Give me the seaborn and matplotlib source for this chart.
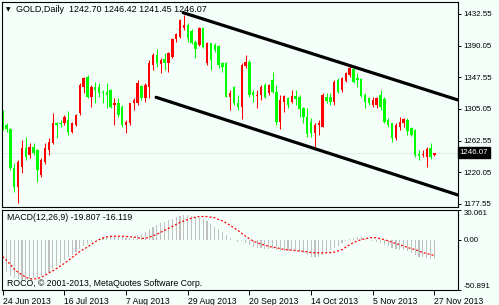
import matplotlib
matplotlib.use("Agg")
import matplotlib.pyplot as plt
import matplotlib.transforms as mtransforms
import numpy as np
import pandas as pd
import seaborn as sns

# ---------------- data ----------------
opens = [1299.2, 1283.6, 1277.8, 1225.4, 1200.8, 1227.7, 1252.3, 1243.3, 1254.5, 1250.0,
         1216.5, 1234.4, 1250.0, 1259.0, 1286.7, 1285.8, 1285.8, 1290.3, 1274.6, 1283.6,
         1299.2, 1335.0, 1348.4, 1321.6, 1335.0, 1334.1, 1328.3, 1328.3, 1330.5, 1310.4,
         1312.7, 1308.2, 1283.6, 1285.8, 1312.7, 1312.7, 1335.9, 1319.4, 1335.0, 1364.1,
         1377.5, 1365.4, 1371.7, 1366.3, 1375.3, 1398.5, 1402.1, 1413.3, 1417.8, 1410.2,
         1395.4, 1390.9, 1413.3, 1366.3, 1393.2, 1390.9, 1389.6, 1366.3, 1366.3, 1320.7,
         1334.1, 1312.7, 1308.2, 1362.7, 1368.6, 1328.3, 1322.5, 1323.8, 1337.2, 1326.1,
         1344.0, 1328.3, 1288.0, 1314.9, 1319.4, 1314.9, 1322.5, 1320.7, 1305.9, 1294.8,
         1288.0, 1272.4, 1283.6, 1281.3, 1320.7, 1320.7, 1314.9, 1344.0, 1330.5, 1343.1,
         1350.7, 1358.3, 1346.2, 1344.9, 1323.8, 1319.4, 1310.4, 1310.4, 1323.8, 1318.0,
         1290.3, 1285.8, 1265.7, 1280.5, 1285.8, 1290.3, 1279.1, 1276.9, 1244.7, 1242.9,
         1241.1, 1252.3, 1242.70]
highs = [1303.7, 1285.8, 1279.1, 1232.1, 1236.6, 1263.5, 1267.9, 1259.0, 1259.0, 1250.9,
         1238.9, 1259.9, 1265.7, 1299.2, 1288.0, 1290.3, 1297.0, 1302.8, 1288.0, 1298.3,
         1339.5, 1348.4, 1350.7, 1337.2, 1341.7, 1339.5, 1330.5, 1339.5, 1331.4, 1319.4,
         1319.4, 1310.4, 1290.3, 1313.6, 1319.4, 1344.0, 1337.2, 1339.5, 1370.8, 1380.6,
         1385.1, 1373.0, 1380.6, 1382.0, 1399.9, 1407.5, 1425.4, 1431.2, 1420.0, 1411.9,
         1397.6, 1415.5, 1415.5, 1395.4, 1394.1, 1393.2, 1390.9, 1368.6, 1368.6, 1330.5,
         1335.9, 1323.8, 1366.3, 1377.5, 1370.8, 1330.5, 1330.5, 1337.2, 1339.5, 1338.6,
         1355.2, 1337.2, 1323.8, 1323.8, 1321.6, 1330.5, 1330.5, 1323.8, 1308.2, 1305.9,
         1292.5, 1285.8, 1290.3, 1326.1, 1326.1, 1326.1, 1344.0, 1346.2, 1348.4, 1355.2,
         1362.7, 1361.8, 1352.9, 1346.2, 1326.1, 1320.7, 1320.7, 1321.6, 1330.5, 1321.6,
         1292.5, 1286.7, 1285.8, 1294.8, 1292.5, 1292.5, 1281.3, 1277.8, 1250.0, 1250.0,
         1254.5, 1259.0, 1246.42]
lows = [1276.9, 1274.6, 1223.2, 1194.1, 1179.4, 1218.7, 1236.6, 1238.9, 1243.3, 1207.5,
        1214.2, 1231.3, 1243.3, 1258.1, 1265.7, 1281.3, 1283.6, 1270.2, 1272.4, 1282.2,
        1297.0, 1326.1, 1319.4, 1308.2, 1312.7, 1321.6, 1312.7, 1305.9, 1305.9, 1283.6,
        1294.8, 1281.3, 1272.4, 1283.6, 1303.7, 1310.4, 1317.1, 1314.9, 1319.4, 1357.4,
        1361.8, 1352.9, 1357.4, 1355.2, 1373.0, 1395.4, 1399.9, 1411.1, 1395.4, 1392.3,
        1373.0, 1389.6, 1386.5, 1364.1, 1357.4, 1382.0, 1359.6, 1355.2, 1320.7, 1303.7,
        1310.4, 1303.7, 1291.2, 1359.6, 1321.6, 1314.9, 1305.9, 1317.1, 1319.4, 1323.8,
        1326.1, 1283.6, 1277.8, 1301.5, 1305.9, 1312.7, 1310.4, 1294.8, 1285.8, 1267.9,
        1267.9, 1254.5, 1270.2, 1280.5, 1312.7, 1310.4, 1310.4, 1326.1, 1328.3, 1341.7,
        1348.4, 1339.5, 1335.0, 1320.7, 1305.9, 1310.4, 1308.2, 1305.9, 1303.7, 1285.8,
        1280.5, 1261.2, 1263.5, 1276.9, 1281.3, 1270.2, 1268.8, 1241.1, 1236.6, 1240.2,
        1227.7, 1237.5, 1241.45]
closes = [1283.6, 1277.8, 1225.4, 1200.8, 1234.4, 1252.3, 1241.1, 1254.5, 1245.6, 1223.2,
          1236.6, 1252.3, 1261.2, 1285.8, 1283.6, 1284.5, 1294.8, 1274.6, 1285.8, 1297.0,
          1337.2, 1346.2, 1321.6, 1335.0, 1330.5, 1327.0, 1326.1, 1323.8, 1308.2, 1312.7,
          1297.0, 1283.6, 1288.0, 1312.7, 1317.1, 1339.5, 1319.4, 1337.2, 1366.3, 1377.5,
          1366.3, 1370.8, 1366.3, 1380.6, 1398.5, 1405.7, 1424.5, 1417.8, 1399.9, 1393.2,
          1385.1, 1413.3, 1388.7, 1393.2, 1370.8, 1384.2, 1364.1, 1361.8, 1321.6, 1327.0,
          1312.7, 1308.2, 1364.1, 1368.6, 1323.8, 1323.8, 1323.8, 1335.0, 1321.6, 1337.2,
          1328.3, 1288.0, 1317.1, 1322.5, 1310.4, 1322.5, 1318.0, 1304.6, 1294.8, 1271.5,
          1272.4, 1283.6, 1285.8, 1323.8, 1316.2, 1314.9, 1341.7, 1328.3, 1346.2, 1352.9,
          1359.6, 1341.7, 1344.0, 1322.5, 1314.9, 1312.7, 1317.1, 1319.4, 1307.3, 1288.0,
          1283.6, 1265.7, 1283.6, 1288.0, 1291.2, 1276.0, 1270.2, 1243.3, 1242.0, 1244.7,
          1250.9, 1240.2, 1246.07]

macd_main = [-30, -33, -37, -39, -40, -40.5, -40.5, -40, -39, -38.5,
             -37, -35, -33, -30, -27, -24, -21, -18, -15, -12,
             -9, -6, -4, -2, -0.5, 1, 2.5, 3.5, 4.5, 4.5,
             4, 3, 2, 2, 3, 5, 6, 8, 11, 13,
             15, 16.5, 18, 19.5, 21, 22.5, 23.5, 24.5, 24.5, 24,
             23, 22, 20.5, 18.5, 16, 13, 10.5, 8, 5, 2,
             -0.5, -2, -1, -3, -5, -7, -8, -8.5, -9, -9,
             -9.5, -10, -11, -11, -11, -11, -11.5, -12, -13, -15,
             -17, -17.5, -17, -15, -12, -10, -8, -6, -3, -1,
             1, 2, 3, 2.5, 1, 0, -1, -2, -3, -5,
             -6.5, -8, -9, -10, -10.5, -11.5, -13, -15.5, -17, -18,
             -18.5, -19.5, -19.807]
macd_signal = [-17, -21, -25, -30, -33, -35.5, -38, -39.5, -39.8, -39.3,
               -38, -36, -33.5, -31.5, -29, -26.5, -24, -21, -18, -15,
               -12, -9.5, -7.5, -4.5, -2, 0, 1.8, 2.8, 3.3, 3.5,
               3.5, 3.5, 3.2, 3, 2.8, 2, 1.2, 1.5, 2.5, 4,
               5.5, 7.5, 9.5, 11.5, 13.5, 15.5, 17.5, 19, 20.5, 21.8,
               22.8, 23.4, 23.5, 23.4, 22.8, 22.2, 20.5, 19, 17, 14.5,
               12, 9.5, 6.5, 3.5, 1, -1.5, -3, -4.5, -5.5, -6.8,
               -7.5, -8.2, -9, -9.8, -10.2, -10.6, -11, -11.3, -11.8, -12.3,
               -13, -13.2, -13.3, -13.3, -13.2, -13, -12.5, -11.3, -10, -7.5,
               -5, -3, -1.2, 0, 1, 1.8, 2.2, 2, 1, 0,
               -1.2, -2.5, -4, -5, -6.5, -7.8, -9, -10, -11.5, -13,
               -14, -15, -16.119]

date_tick_idx = [0, 16, 32, 48, 64, 80, 96, 112]
date_labels = ["24 Jun 2013", "16 Jul 2013", "7 Aug 2013", "29 Aug 2013",
               "20 Sep 2013", "14 Oct 2013", "5 Nov 2013", "27 Nov 2013"]
price_ticks = [1432.55, 1390.05, 1347.55, 1305.05, 1262.55, 1220.05, 1177.55]
price_tick_labels = ["1432.55", "1390.05", "1347.55", "1305.05", "1262.55", "1220.05", "1177.55"]
macd_ticks = [30.061, 0.0, -50.891]
macd_tick_labels = ["30.061", "0.00", "-50.891"]

upper_channel_x = [46.8, 118.1]
upper_channel_y = [1434.3, 1317.1]
lower_channel_x = [39.8, 118.1]
lower_channel_y = [1320.7, 1189.6]

last_price = 1246.07
header_text = "GOLD,Daily  1242.70 1246.42 1241.45 1246.07"
macd_title = "MACD(12,26,9) -19.807 -16.119"
copyright_text = "ROCO, \u00a9 2001-2013, MetaQuotes Software Corp."

# ---------------- style ----------------
sns.set_theme(style="white")
plt.rcParams["font.family"] = ["Liberation Sans", "DejaVu Sans"]
BG = "#F5FFFA"
UP = "#FF0000"
DOWN = "#00FF00"

W, H = 499, 305
fig = plt.figure(figsize=(W / 100, H / 100), dpi=100, facecolor=BG)

def px_rect(x0, y0, x1, y1):
    return [x0 / W, 1 - y1 / H, (x1 - x0) / W, (y1 - y0) / H]

ax = fig.add_axes(px_rect(2, 2, 458, 207))
ax2 = fig.add_axes(px_rect(2, 210, 458, 290))
for a in (ax, ax2):
    a.set_facecolor(BG)
    for s in a.spines.values():
        s.set_color("black")
        s.set_linewidth(0.8)

df = pd.DataFrame({"idx": np.arange(len(closes)), "open": opens, "high": highs,
                   "low": lows, "close": closes,
                   "macd": macd_main, "signal": macd_signal})
df["up"] = df["close"] >= df["open"]
df["color"] = np.where(df["up"], UP, DOWN)
df["body_lo"] = df[["open", "close"]].min(axis=1)
df["body_h"] = (df["close"] - df["open"]).abs().clip(lower=0.9)

# candles
ax.vlines(df["idx"], df["low"], df["high"], colors=df["color"], linewidth=0.75)
ax.bar(df["idx"], df["body_h"], bottom=df["body_lo"], width=0.62,
       color=df["color"], linewidth=0)

# bid line
ax.axhline(last_price, color="#E3EDE7", linewidth=0.6, zorder=0)

# channel lines
chan = pd.DataFrame({"x": upper_channel_x + lower_channel_x,
                     "y": upper_channel_y + lower_channel_y,
                     "line": ["upper", "upper", "lower", "lower"]})
sns.lineplot(data=chan, x="x", y="y", units="line", estimator=None,
             color="black", linewidth=2.3, ax=ax, legend=False)

ax.set_xlim(-0.18, 118.1)
ax.set_ylim(1173.5, 1448.6)
ax.set_xlabel("")
ax.set_ylabel("")
ax.set_xticks([])
ax.yaxis.tick_right()
ax.set_yticks(price_ticks)
ax.set_yticklabels(price_tick_labels)
ax.tick_params(axis="y", direction="out", length=2.5, width=0.7, pad=1.5,
               labelsize=5.7, colors="black", right=True)

# last price box
trans = mtransforms.blended_transform_factory(ax.transAxes, ax.transData)
ax.text(1.004, last_price, "1246.07", transform=trans, ha="left", va="center",
        fontsize=5.7, color="white",
        bbox=dict(boxstyle="square,pad=0.25", facecolor="black", edgecolor="black"))

# MACD
sns.barplot(data=df, x="idx", y="macd", native_scale=True, color="#C0C0C0",
            width=0.3, linewidth=0, errorbar=None, ax=ax2, saturation=1)
sns.lineplot(data=df, x="idx", y="signal", color="#FF0000", linewidth=0.9,
             ax=ax2, legend=False)
ax2.lines[-1].set_dashes([1.6, 1.6])
ax2.set_xlim(-0.18, 118.1)
ax2.set_ylim(-50.891, 30.061)
ax2.set_xlabel("")
ax2.set_ylabel("")
ax2.yaxis.tick_right()
ax2.set_yticks(macd_ticks)
ax2.set_yticklabels(macd_tick_labels)
ax2.tick_params(axis="y", direction="out", length=2.5, width=0.7, pad=1.5,
                labelsize=5.7, colors="black", right=True)
ylabs = ax2.get_yticklabels()
ylabs[0].set_va("top")
ylabs[2].set_va("bottom")
ax2.set_xticks(date_tick_idx)
ax2.set_xticklabels(date_labels, ha="left")
ax2.tick_params(axis="x", direction="out", length=3.5, width=0.7, pad=1.6,
                labelsize=6.2, colors="black", bottom=True)

# texts
fig.text(8 / W, 1 - 10 / H, "\u25BC", fontsize=4.2, ha="center", va="center",
         family=["DejaVu Sans"], color="black")
fig.text(16.5 / W, 1 - 10 / H, header_text, fontsize=6.45, ha="left", va="center", color="black")
fig.text(6.7 / W, 1 - 217 / H, macd_title, fontsize=6.3, ha="left", va="center", color="black")
fig.text(6.7 / W, 1 - 283 / H, copyright_text, fontsize=6.3, ha="left", va="center", color="black")

fig.savefig("out.png", dpi=100, facecolor=BG)
